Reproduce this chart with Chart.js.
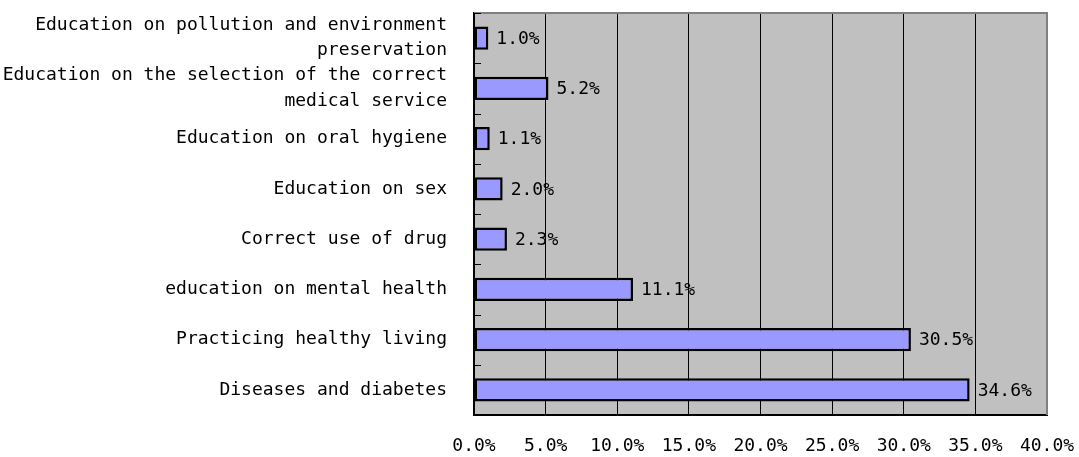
<!DOCTYPE html>
<html>
<head>
<meta charset="utf-8">
<script src="https://cdn.jsdelivr.net/npm/chart.js@4/dist/chart.umd.min.js"></script>
<style>
  html, body { margin: 0; padding: 0; background: #fff; }
  #wrap { width: 1079px; height: 457px; }
</style>
</head>
<body>
<div id="wrap"><canvas id="myChart" width="1079" height="457"></canvas></div>
<script>
// Datos de la gráfica
const categorias = [
    ['Education on pollution and environment', 'preservation'],
    ['Education on the selection of the correct', 'medical service'],
    'Education on oral hygiene',
    'Education on sex',
    'Correct use of drug',
    'education on mental health',
    'Practicing healthy living',
    'Diseases and diabetes'
];
const valores = [1.0, 5.2, 1.1, 2.0, 2.3, 11.1, 30.5, 34.6];
const ejeX = { min: 0, max: 40, paso: 5 };

const fuente = { family: '"DejaVu Sans Mono", monospace', size: 18, lineHeight: 1.4 };

// Fondo gris del área de la gráfica y bordes
const fondoPlugin = {
    id: 'fondo',
    beforeDraw(chart) {
        const { ctx, chartArea: a } = chart;
        ctx.save();
        ctx.fillStyle = '#C0C0C0';
        ctx.fillRect(a.left, a.top, a.right - a.left, a.bottom - a.top);
        ctx.restore();
    },
    afterDatasetsDraw(chart) {
        const { ctx, chartArea: a, scales } = chart;
        ctx.save();
        // borde superior y derecho gris
        ctx.strokeStyle = '#808080';
        ctx.lineWidth = 2;
        ctx.beginPath();
        ctx.moveTo(a.left, a.top);
        ctx.lineTo(a.right, a.top);
        ctx.lineTo(a.right, a.bottom);
        ctx.stroke();
        // marcas pequeñas en el eje y (entre categorías)
        const y = scales.y;
        const n = categorias.length;
        ctx.strokeStyle = '#000';
        ctx.lineWidth = 1;
        for (let i = 0; i <= n; i++) {
            const p = y.getPixelForValue(i - 0.5);
            ctx.beginPath();
            ctx.moveTo(a.left, Math.round(p) + 0.5);
            ctx.lineTo(a.left + 7, Math.round(p) + 0.5);
            ctx.stroke();
        }
        // etiquetas de valores
        const meta = chart.getDatasetMeta(0);
        ctx.fillStyle = '#000';
        ctx.font = fuente.size + 'px ' + fuente.family;
        ctx.textAlign = 'left';
        ctx.textBaseline = 'middle';
        meta.data.forEach((bar, i) => {
            ctx.fillText(valores[i].toFixed(1) + '%', bar.x + 8, bar.y + 1);
        });
        ctx.restore();
    }
};

const ctx = document.getElementById('myChart').getContext('2d');
const myChart = new Chart(ctx, {
    type: 'bar',
    data: {
        labels: categorias,
        datasets: [{
            data: valores,
            backgroundColor: '#9999FF',
            borderColor: '#000000',
            borderWidth: 2.5,
            borderSkipped: false,
            barPercentage: 0.46,
            categoryPercentage: 1.0
        }]
    },
    options: {
        indexAxis: 'y',
        responsive: false,
        animation: false,
        layout: { padding: { top: 13, right: 32, left: 0, bottom: 0 } },
        plugins: {
            legend: { display: false },
            tooltip: { enabled: false }
        },
        scales: {
            x: {
                min: ejeX.min,
                max: ejeX.max,
                ticks: {
                    stepSize: ejeX.paso,
                    color: '#000',
                    font: fuente,
                    padding: 19,
                    maxRotation: 0,
                    callback: v => v.toFixed(1) + '%'
                },
                grid: {
                    color: '#000',
                    lineWidth: 1,
                    drawTicks: false
                },
                border: { color: '#000', width: 2 },
                afterFit: s => { s.height = 42; s.paddingLeft = 0; s.paddingRight = 0; }
            },
            y: {
                ticks: {
                    color: '#000',
                    font: fuente,
                    padding: 27,
                    autoSkip: false
                },
                grid: { display: false, drawTicks: false },
                border: { color: '#000', width: 2 },
                afterFit: s => { s.width = 474; s.paddingTop = 0; s.paddingBottom = 0; }
            }
        }
    },
    plugins: [fondoPlugin]
});
</script>
</body>
</html>
